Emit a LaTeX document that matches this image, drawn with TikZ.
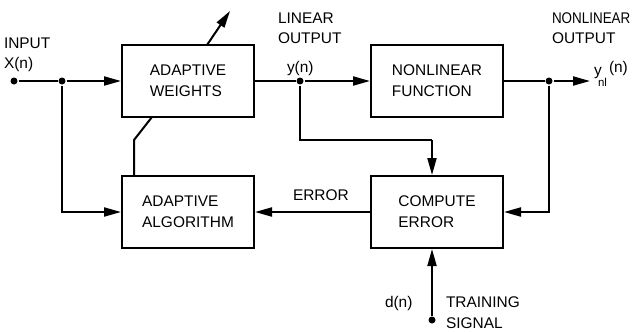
\documentclass[tikz,border=0pt]{standalone}
\usepackage{fontspec}
\setmainfont{Liberation Sans}
\usetikzlibrary{arrows.meta}
\begin{document}
\begin{tikzpicture}[x=1bp,y=-1bp,
  line width=2bp,
  font=\fontsize{15.5}{21}\selectfont,
  blk/.style={draw, line width=2bp, minimum width=132bp, minimum height=72bp, align=left, inner sep=0pt},
  arr/.style={-{Triangle[length=17bp,width=9bp]}},
  dot/.style={circle, fill, inner sep=0pt, minimum size=7bp},
  lbl/.style={anchor=base west, inner sep=0pt, align=left}]
\useasboundingbox (0,0) rectangle (640,331);
% blocks
\node[blk] (AW) at (188,81) {ADAPTIVE\\WEIGHTS};
\node[blk] (NF) at (437,81) {NONLINEAR\\FUNCTION};
\node[blk] (AA) at (188,212) {ADAPTIVE\\ALGORITHM};
\node[blk] (CE) at (437,212) {COMPUTE\\ERROR};
% junctions
\node[dot] (in) at (14,81) {};
\node[dot] (j1) at (62,81) {};
\node[dot] (jy) at (300,81) {};
\node[dot] (jo) at (549,81) {};
\node[dot] (dn) at (432,320) {};
\coordinate (yout) at (590,81);
\coordinate (c1) at (300,140);
\coordinate (c2) at (432,140);
\coordinate (w1) at (134,140);
\coordinate (w2) at (152,117);
\coordinate (w3) at (207,45);
\coordinate (w4) at (230,11);
% connectors
\draw (in) -- (j1);
\draw[arr] (j1) -- (AW.west);
\draw[arr] (j1) |- (AA.west);
\draw (AW.east) -- (jy);
\draw[arr] (jy) -- (NF.west);
\draw (NF.east) -- (jo);
\draw[arr] (jo) -- (yout);
\draw[arr] (jo) |- (CE.east);
\draw (jy) -- (c1) -- (c2);
\draw[arr] (c2) -- (c2 |- CE.north);
\draw[arr] (CE.west) -- (AA.east);
\draw[arr] (dn) -- (dn |- CE.south);
\draw (w1 |- AA.north) -- (w1) -- (w2);
\draw[arr] (w3) -- (w4);
% labels
\node[lbl] (tin) at (3,48) {INPUT};
\node[lbl] (txn) at (3,68) {X(n)};
\node[lbl] (tlin) at (277,23) {LINEAR};
\node[lbl] (tlout) at (277,43) {OUTPUT};
\node[lbl] (tyn) at (286,72) {y(n)};
\node[lbl] (tnl) at (551,23) {\scalebox{0.87}[1]{NONLINEAR}};
\node[lbl] (tnout) at (551,43) {OUTPUT};
\node[lbl] (tynl) at (593,75) {y};
\node[lbl, font=\fontsize{11.5}{12}\selectfont] (tsub) at (597,86) {nl};
\node[lbl] (tynl2) at (608,72) {(n)};
\node[lbl] (terr) at (292,200) {ERROR};
\node[lbl] (tdn) at (384,307) {d(n)};
\node[lbl] (ttr) at (445,307) {TRAINING};
\node[lbl] (tsig) at (445,328) {SIGNAL};
\end{tikzpicture}
\end{document}
